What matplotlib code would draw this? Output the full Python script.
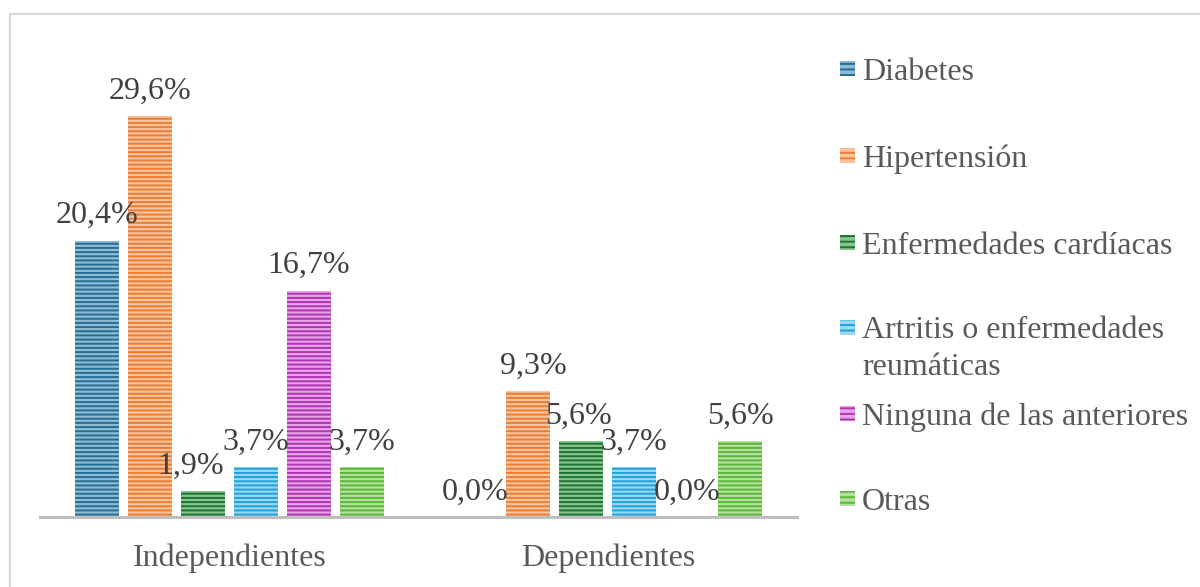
import matplotlib
matplotlib.use("Agg")
import matplotlib.pyplot as plt
from matplotlib.patches import Rectangle
import numpy as np

plt.rcParams['font.family'] = ['Liberation Serif', 'DejaVu Serif']
plt.rcParams['hatch.linewidth'] = 1.4

categories = ["Independientes", "Dependientes"]
series_names = ["Diabetes", "Hipertensión", "Enfermedades cardíacas",
                "Artritis o enfermedades\nreumáticas", "Ninguna de las anteriores", "Otras"]
values = {
    "Diabetes": [20.4, 0.0],
    "Hipertensión": [29.6, 9.3],
    "Enfermedades cardíacas": [1.9, 5.6],
    "Artritis o enfermedades\nreumáticas": [3.7, 3.7],
    "Ninguna de las anteriores": [16.7, 0.0],
    "Otras": [3.7, 5.6],
}
dark_colors = ["#286C93", "#ED7D31", "#1E7330", "#1FA2DC", "#B035B0", "#5DB53A"]
light_colors = ["#8DBBD3", "#F7C3A0", "#86C491", "#9AD8F2", "#E6A3E6", "#B3E09E"]

W, H = 1200, 587
FS = 23
fig = plt.figure(figsize=(W / 100, H / 100), dpi=100)
ax = fig.add_axes([40 / W, 70 / H, 757 / W, 36 * 13.55 / H])

x = np.arange(len(categories))
step = 0.14
width = 0.116
label_dx = {(1, 0): 0, (2, 0): -12, (1, 1): 5, (2, 1): -3}
for i, name in enumerate(series_names):
    pos = x + (i - 2.5) * step
    vals = values[name]
    ax.bar(pos, vals, width, facecolor=light_colors[i], edgecolor=dark_colors[i],
           linewidth=0, hatch='----')
    for j, (p, v) in enumerate(zip(pos, vals)):
        dx = label_dx.get((i, j), 0)
        ax.annotate(f"{v:.1f}%".replace('.', ','), (p, v), xytext=(dx, 25),
                    textcoords='offset pixels', ha='center', va='center',
                    fontsize=FS, color='#404040')

ax.set_xlim(-0.5, 1.5)
ax.set_ylim(0, 36)
for s in ['top', 'right', 'left']:
    ax.spines[s].set_visible(False)
ax.spines['bottom'].set_color('#BFBFBF')
ax.spines['bottom'].set_linewidth(2.2)
ax.set_yticks([])
ax.set_xticks(x)
ax.set_xticklabels(categories, fontsize=FS, color='#595959')
ax.tick_params(axis='x', length=0, pad=19)

# legend
leg_y = [69, 156, 243, 328, 414, 499]
for i, name in enumerate(series_names):
    yc = leg_y[i]
    fig.add_artist(Rectangle((840 / W, 1 - (yc + 7) / H), 15 / W, 15 / H,
                             transform=fig.transFigure, facecolor=light_colors[i],
                             edgecolor=dark_colors[i], linewidth=0, hatch='---'))
    if '\n' in name:
        fig.text(862 / W, 1 - (yc + 21) / H, name, ha='left', va='center',
                 fontsize=FS, color='#595959', linespacing=1.35)
    else:
        fig.text(862 / W, 1 - (yc + 3) / H, name, ha='left', va='center',
                 fontsize=FS, color='#595959')

fig.add_artist(Rectangle((10 / W, -0.1), 1.2, (H - 14) / H + 0.1,
                         transform=fig.transFigure, fill=False,
                         edgecolor='#D9D9D9', linewidth=1.5))

fig.savefig("out.png", dpi=100)
